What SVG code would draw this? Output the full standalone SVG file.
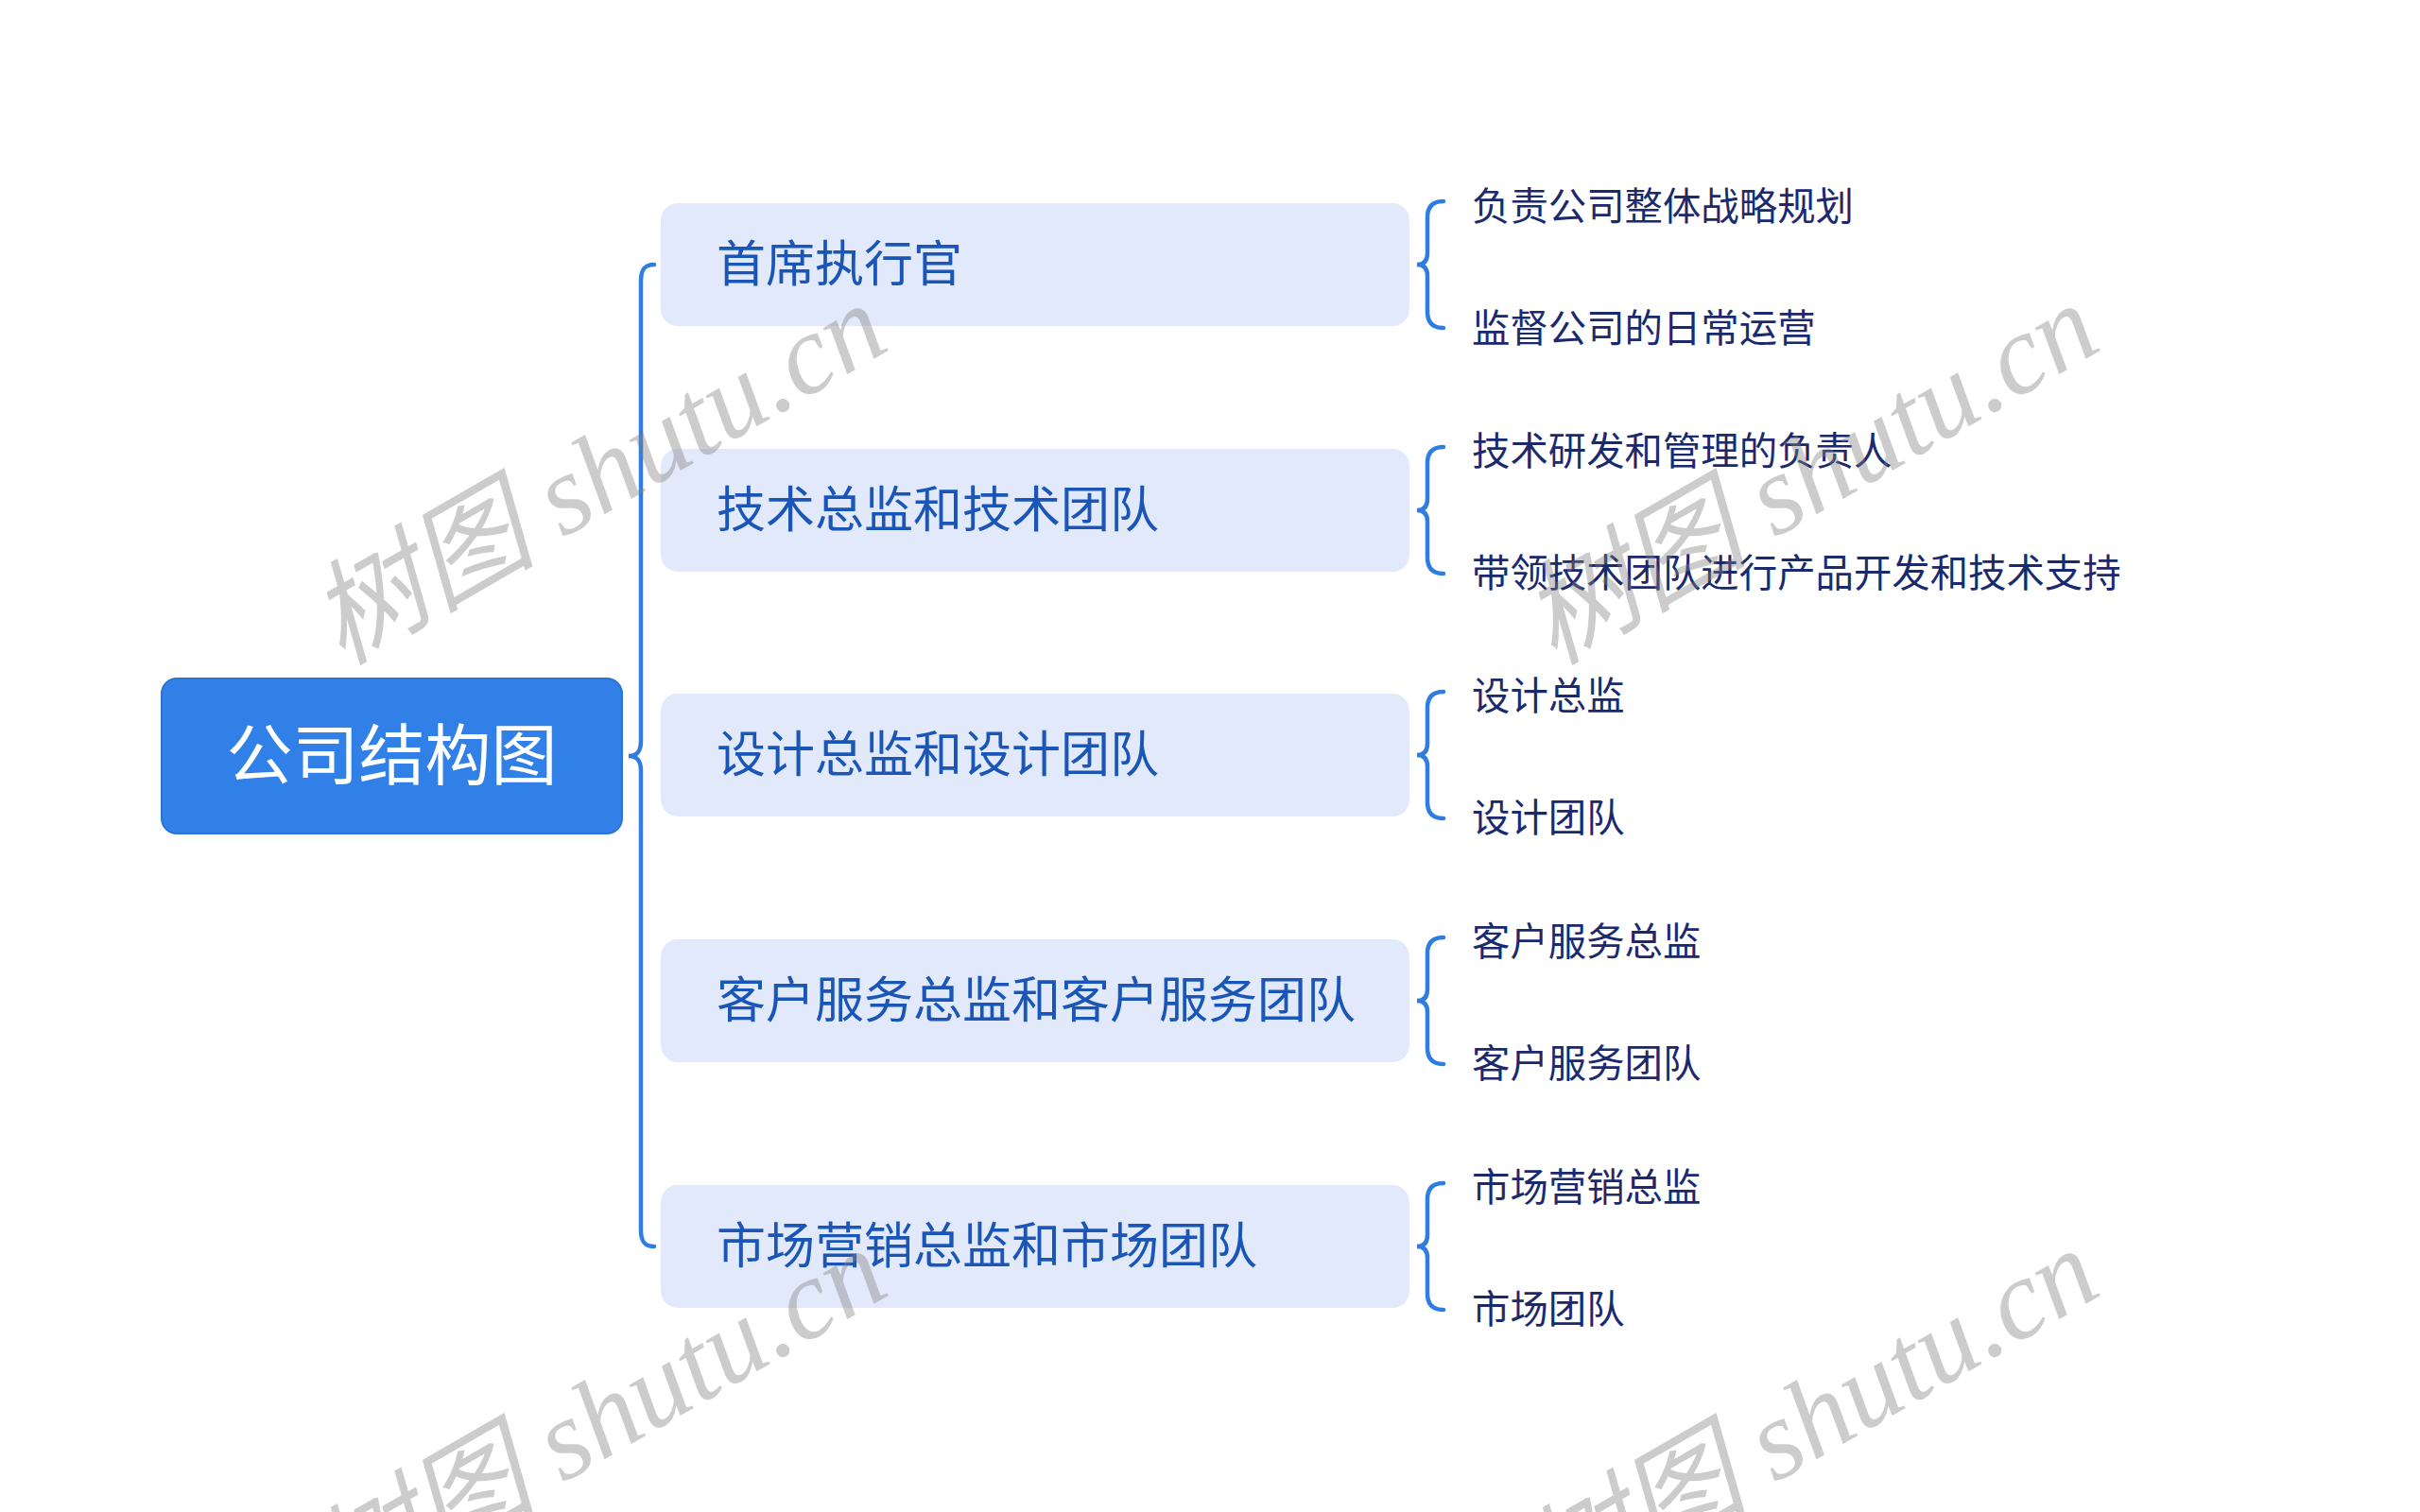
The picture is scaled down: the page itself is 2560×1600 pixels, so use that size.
<svg xmlns="http://www.w3.org/2000/svg" width="2560" height="1600" viewBox="0 0 2560 1600">
<defs>
<style>
.root rect{fill:#3080e8;stroke:#2a74d6;stroke-width:2}
.root text{fill:#ffffff;font-family:"Noto Sans CJK SC","Noto Sans",sans-serif;font-size:70px}
.l1 rect{fill:#e2e9fb}
.l1 text{fill:#1a56b8;font-family:"Noto Sans CJK SC","Noto Sans",sans-serif;font-size:52px}
.l2 text{fill:#1b2a6e;font-family:"Noto Sans CJK SC","Noto Sans",sans-serif;font-size:40.4px}
.conn path{fill:none;stroke:#2f7de1;stroke-width:4.5;stroke-linecap:round}
.wm text{fill:#808080;fill-opacity:0.4;font-family:"Liberation Serif","Noto Sans CJK SC",serif;font-style:italic;font-size:120px}
</style>
</defs>
<rect width="2560" height="1600" fill="#ffffff"/>
<g id="connectors" class="conn">
<path d="M692,280 C682,280 678,285 678,297 L678,784 C678,795 674,800 665,800 C674,800 678,805 678,816 L678,1302 C678,1314 682,1319 692,1319"/>
<path d="M1527,213 C1515,213 1510,219 1510,230 L1510,268 C1510,276 1506,280 1499,280 C1506,280 1510,284 1510,292 L1510,330 C1510,341 1515,347 1527,347"/>
<path d="M1527,473 C1515,473 1510,479 1510,490 L1510,528 C1510,536 1506,540 1499,540 C1506,540 1510,544 1510,552 L1510,590 C1510,601 1515,607 1527,607"/>
<path d="M1527,732 C1515,732 1510,738 1510,749 L1510,787 C1510,795 1506,799 1499,799 C1506,799 1510,803 1510,811 L1510,849 C1510,860 1515,866 1527,866"/>
<path d="M1527,992 C1515,992 1510,998 1510,1009 L1510,1047 C1510,1055 1506,1059 1499,1059 C1506,1059 1510,1063 1510,1071 L1510,1109 C1510,1120 1515,1126 1527,1126"/>
<path d="M1527,1252 C1515,1252 1510,1258 1510,1269 L1510,1307 C1510,1315 1506,1319 1499,1319 C1506,1319 1510,1323 1510,1331 L1510,1369 C1510,1380 1515,1386 1527,1386"/>
</g>
<g id="root" class="root">
<rect x="171" y="718" width="487" height="164" rx="16"/>
<text x="414.5" y="825" text-anchor="middle">公司结构图</text>
</g>
<g id="n1" class="l1"><rect x="699" y="215" width="792" height="130" rx="18"/><text x="758" y="298">首席执行官</text></g>
<g id="n2" class="l1"><rect x="699" y="475" width="792" height="130" rx="18"/><text x="758" y="558">技术总监和技术团队</text></g>
<g id="n3" class="l1"><rect x="699" y="734" width="792" height="130" rx="18"/><text x="758" y="817">设计总监和设计团队</text></g>
<g id="n4" class="l1"><rect x="699" y="994" width="792" height="130" rx="18"/><text x="758" y="1077">客户服务总监和客户服务团队</text></g>
<g id="n5" class="l1"><rect x="699" y="1254" width="792" height="130" rx="18"/><text x="758" y="1337">市场营销总监和市场团队</text></g>
<g id="c1a" class="l2"><text x="1557" y="233">负责公司整体战略规划</text></g>
<g id="c1b" class="l2"><text x="1557" y="362">监督公司的日常运营</text></g>
<g id="c2a" class="l2"><text x="1557" y="492">技术研发和管理的负责人</text></g>
<g id="c2b" class="l2"><text x="1557" y="621">带领技术团队进行产品开发和技术支持</text></g>
<g id="c3a" class="l2"><text x="1557" y="751">设计总监</text></g>
<g id="c3b" class="l2"><text x="1557" y="880">设计团队</text></g>
<g id="c4a" class="l2"><text x="1557" y="1011">客户服务总监</text></g>
<g id="c4b" class="l2"><text x="1557" y="1140">客户服务团队</text></g>
<g id="c5a" class="l2"><text x="1557" y="1271">市场营销总监</text></g>
<g id="c5b" class="l2"><text x="1557" y="1400">市场团队</text></g>
<g id="watermarks" class="wm">
<text x="640" y="540" text-anchor="middle" transform="rotate(-30 640 514)">树图 shutu.cn</text>
<text x="1922" y="540" text-anchor="middle" transform="rotate(-30 1922 514)">树图 shutu.cn</text>
<text x="640" y="1540" text-anchor="middle" transform="rotate(-30 640 1514)">树图 shutu.cn</text>
<text x="1922" y="1540" text-anchor="middle" transform="rotate(-30 1922 1514)">树图 shutu.cn</text>
</g>
</svg>
